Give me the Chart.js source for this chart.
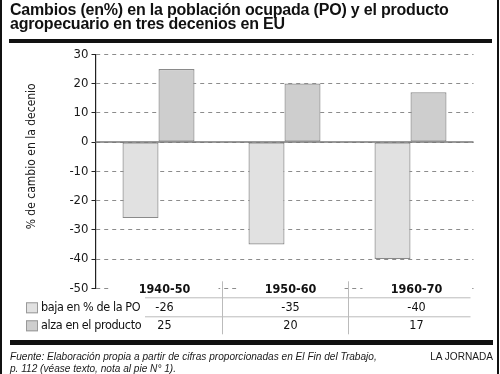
<!DOCTYPE html>
<html>
<head>
<meta charset="utf-8">
<script src="https://cdn.jsdelivr.net/npm/chart.js@4.4.0/dist/chart.umd.min.js"></script>
<style>
  body { margin: 0; background: #fff; }
  #wrap { position: relative; width: 500px; height: 374px; overflow: hidden; font-family: 'Liberation Sans', Arial, sans-serif; color: #1a1a1a; }
  #wrap canvas { position: absolute; left: 0; top: 0; }
  .edge { position: absolute; top: 0; height: 374px; width: 2px; background: #111; }
  .rule { position: absolute; background: #111; }
  #title { position: absolute; left: 10px; top: 2.6px; font-weight: bold; font-size: 16px; letter-spacing: -0.2px; line-height: 14.3px; white-space: nowrap; color: #111; }
  #source { position: absolute; left: 10px; top: 350.8px; font-style: italic; font-size: 10.1px; line-height: 11.7px; white-space: nowrap; }
  #brand { position: absolute; right: 7px; top: 350.8px; font-size: 10.1px; line-height: 11.7px; }
</style>
</head>
<body>
<div id="wrap">
  <canvas id="myChart" width="500" height="374"></canvas>
  <div class="edge" style="left:0"></div>
  <div class="edge" style="left:497px"></div>
  <div id="title">Cambios (en%) en la población ocupada (PO) y el producto<br>agropecuario en tres decenios en EU</div>
  <div class="rule" style="left:9px;top:39px;width:483px;height:4px"></div>
  <div class="rule" style="left:10px;top:340px;width:483px;height:5px"></div>
  <div id="source">Fuente: Elaboración propia a partir de cifras proporcionadas en El Fin del Trabajo,<br>p. 112 (véase texto, nota al pie N° 1).</div>
  <div id="brand">LA JORNADA</div>
</div>
<script>
const categories = ['1940-50', '1950-60', '1960-70'];
const bajaPO = [-26, -35, -40];
const alzaProducto = [25, 20, 17];
const seriesNames = ['baja en % de la PO', 'alza en el producto'];
const yTitle = '% de cambio en la decenio';
const yMin = -50, yMax = 30, yStep = 10;

const narrow = '"DejaVu Sans Condensed", sans-serif';
const lightGray = '#e1e1e1';
const darkGray = '#cecece';

// zero line, axis title and the data table under the plot
const tablePlugin = {
  id: 'table',
  afterDatasetsDraw(chart) {
    const { ctx, chartArea: a, scales: { y } } = chart;
    const y0 = y.getPixelForValue(0);
    ctx.save();
    ctx.strokeStyle = '#777';
    ctx.lineWidth = 1.5;
    ctx.beginPath();
    ctx.moveTo(a.left, y0);
    ctx.lineTo(a.right, y0);
    ctx.stroke();
    ctx.restore();
  },
  afterDraw(chart) {
    const { ctx, chartArea: a, scales: { x, y } } = chart;
    const base = y.getPixelForValue(yMin);
    const rows = [bajaPO, alzaProducto];
    const swatches = [lightGray, darkGray];
    ctx.save();

    // y title (sits a bit above the middle of the axis)
    ctx.save();
    ctx.translate(32, (y.top + y.bottom) / 2 - 15);
    ctx.rotate(-Math.PI / 2);
    ctx.font = '12px ' + narrow;
    ctx.fillStyle = '#1a1a1a';
    ctx.textAlign = 'center';
    ctx.textBaseline = 'middle';
    ctx.fillText(yTitle, 0, 0);
    ctx.restore();

    // table rules
    ctx.strokeStyle = '#bbb';
    ctx.lineWidth = 1;
    [base + 9.5, base + 28.5].forEach(ly => {
      ctx.beginPath();
      ctx.moveTo(145, ly);
      ctx.lineTo(a.right - 3, ly);
      ctx.stroke();
    });
    for (let i = 0; i < categories.length - 1; i++) {
      const lx = Math.round((x.getPixelForValue(i) + x.getPixelForValue(i + 1)) / 2) + 0.5;
      ctx.beginPath();
      ctx.moveTo(lx, base - 7);
      ctx.lineTo(lx, base + 46);
      ctx.stroke();
    }

    // header labels
    ctx.textAlign = 'center';
    ctx.textBaseline = 'middle';
    categories.forEach((c, i) => {
      const cx = x.getPixelForValue(i) + 6;
      ctx.fillStyle = '#fff';
      ctx.fillRect(cx - 54, base - 6, 108, 12);
      ctx.fillStyle = '#111';
      ctx.font = 'bold 12.5px ' + narrow;
      ctx.fillText(c, cx, base + 1);
    });

    // values + legend
    rows.forEach((vals, r) => {
      const ty = base + 19 + r * 18;
      ctx.font = '12.5px ' + narrow;
      vals.forEach((v, i) => {
        ctx.fillText(String(v), x.getPixelForValue(i) + 6, ty);
      });
      ctx.fillStyle = swatches[r];
      ctx.fillRect(26, ty - 5, 12, 11);
      ctx.strokeStyle = '#999';
      ctx.strokeRect(26.5, ty - 4.5, 11, 10);
      ctx.fillStyle = '#111';
      ctx.textAlign = 'left';
      ctx.letterSpacing = '-0.4px';
      ctx.fillText(seriesNames[r], 41, ty);
      ctx.letterSpacing = '0px';
      ctx.textAlign = 'center';
    });
    ctx.restore();
  }
};

const ctx = document.getElementById('myChart').getContext('2d');
const chart = new Chart(ctx, {
  type: 'bar',
  data: {
    labels: categories,
    datasets: [{
      label: seriesNames[0],
      data: bajaPO,
      backgroundColor: lightGray,
      borderColor: '#8a8a8a',
      borderWidth: 1.2,
      borderSkipped: false,
      categoryPercentage: 0.5714,
      barPercentage: 1
    }, {
      label: seriesNames[1],
      data: alzaProducto,
      backgroundColor: darkGray,
      borderColor: '#8a8a8a',
      borderWidth: 1.2,
      borderSkipped: false,
      categoryPercentage: 0.5714,
      barPercentage: 1
    }]
  },
  options: {
    responsive: false,
    animation: false,
    layout: { padding: { left: 0, top: 54.3, right: 26.5, bottom: 85.7 } },
    plugins: {
      legend: { display: false },
      tooltip: { enabled: false }
    },
    scales: {
      x: { display: false },
      y: {
        min: yMin,
        max: yMax,
        afterFit: s => { s.width = 95.5; },
        ticks: {
          stepSize: yStep,
          color: '#1a1a1a',
          padding: 3,
          font: { size: 13, family: narrow }
        },
        grid: {
          color: '#8c8c8c',
          lineWidth: 1,
          tickLength: 4,
          tickColor: '#222',
          tickBorderDash: []
        },
        border: { color: '#222', width: 1.2, dash: [4, 4] }
      }
    }
  },
  plugins: [tablePlugin]
});
</script>
</body>
</html>
